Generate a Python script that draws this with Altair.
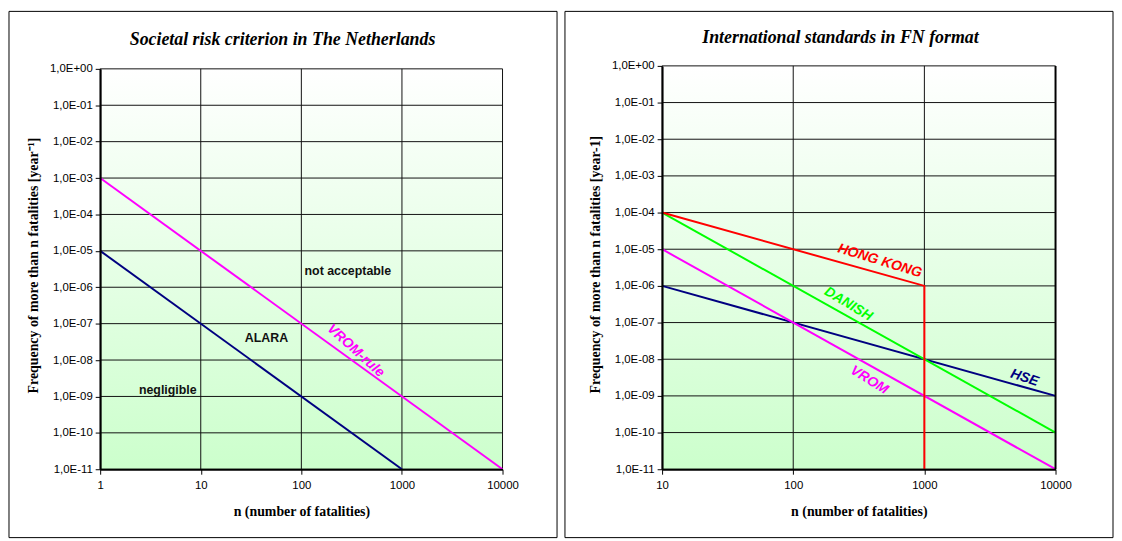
import altair as alt
import pandas as pd

# ---------------- data ----------------
# Left panel: Societal risk criterion in The Netherlands
nl_upper_n = [1, 10000]
nl_upper_f = [1e-3, 1e-11]
nl_lower_n = [1, 1000]
nl_lower_f = [1e-5, 1e-11]

# Right panel: International standards in FN format
hk_n = [10, 1000, 1000]
hk_f = [1e-4, 1e-6, 1e-11]
danish_n = [10, 10000]
danish_f = [1e-4, 1e-10]
hse_n = [10, 10000]
hse_f = [1e-6, 1e-9]
vrom_n = [10, 10000]
vrom_f = [1e-5, 1e-11]

x_ticks_left = [1, 10, 100, 1000, 10000]
x_ticks_right = [10, 100, 1000, 10000]
y_ticks = [1e0, 1e-1, 1e-2, 1e-3, 1e-4, 1e-5, 1e-6, 1e-7, 1e-8, 1e-9, 1e-10, 1e-11]

region_labels = ["not acceptable", "ALARA", "negligible"]
region_label_n = [290, 45, 4.7]
region_label_f = [2.75e-6, 3.9e-8, 1.48e-9]

# rotated curve labels: text, n, F, colour, angle
left_curve_labels = [("VROM-rule", 347, 1.8e-8, "#FF00FF", 42)]
right_curve_labels = [
    ("HONG KONG", 457, 4.8e-6, "#FF0000", 17),
    ("DANISH", 263, 3.2e-7, "#00FF00", 31),
    ("HSE", 5800, 3.1e-9, "#000080", 18),
    ("VROM", 380, 2.7e-9, "#FF00FF", 32),
]

left_title = "Societal risk criterion in The Netherlands"
right_title = "International standards in FN format"
left_ytitle = "Frequency of more than n  fatalities [year\u207b\u00b9]"
right_ytitle = "Frequency of more than n  fatalities [year-1]"
xtitle = "n  (number of fatalities)"

LABEL_EXPR = (
    "'1,0E' + (round(log(datum.value)/LN10) >= 0 ? '+' : '-') + "
    "(abs(round(log(datum.value)/LN10)) < 10 ? '0' : '') + abs(round(log(datum.value)/LN10))"
)

one = pd.DataFrame({"k": [0]})


def panel(width, height, ytop, xdomain, xticks, series, region, curve_labels,
          title, title_pos, ytitle, box, right_edge=False):
    xscale = alt.Scale(type="log", domain=xdomain, nice=False)
    yscale = alt.Scale(type="log", domain=[1e-11, 1], nice=False, range=[height, ytop])
    xenc = alt.X(
        "n:Q", scale=xscale,
        axis=alt.Axis(
            values=xticks, format="d", grid=False,
            tickColor="black", tickSize=5, domainColor="black", domainWidth=2,
            labelFont="Liberation Sans", labelFontSize=11.5, labelColor="black",
            labelPadding=5, labelOverlap=False, labelFlush=False,
            title=xtitle, titleFont="Liberation Serif", titleFontSize=14,
            titleFontWeight="bold", titleColor="black", titleY=43,
            titleBaseline="middle", zindex=1,
        ),
    )
    yenc = alt.Y(
        "f:Q", scale=yscale,
        axis=alt.Axis(
            values=y_ticks, labelExpr=LABEL_EXPR, grid=False,
            tickColor="black", tickSize=5, domainColor="black",
            domainWidth=2, labelFont="Liberation Sans", labelFontSize=11.5,
            labelColor="black", labelPadding=3, labelOverlap=False, labelFlush=False,
            title=ytitle, titleFont="Liberation Serif", titleFontSize=14,
            titleFontWeight="bold", titleColor="black", titleAngle=-90,
            titleX=-67, titleY=height - 77, titleAlign="left",
            titleBaseline="middle", zindex=1,
        ),
    )

    grad = alt.LinearGradient(
        gradient="linear",
        stops=[alt.GradientStop(color="#ffffff", offset=0),
               alt.GradientStop(color="#ccffcc", offset=1)],
        x1=0, x2=0, y1=0, y2=1,
    )
    layers = [
        alt.Chart(one).mark_rect(color=grad).encode(
            x=alt.value(0), x2=alt.value(width), y=alt.value(ytop), y2=alt.value(height)
        ),
        # gridlines at the tick values
        alt.Chart(pd.DataFrame({"f": y_ticks})).mark_rule(color="#111111", strokeWidth=1)
        .encode(y=yenc),
        alt.Chart(pd.DataFrame({"n": xticks})).mark_rule(color="#111111", strokeWidth=1)
        .encode(x=xenc, y=alt.value(ytop), y2=alt.value(height)),
    ]
    for ns, fs, col in series:
        df = pd.DataFrame({"n": ns, "f": fs, "idx": list(range(len(ns)))})
        layers.append(
            alt.Chart(df).mark_line(color=col, strokeWidth=2).encode(
                x=xenc, y=yenc, order="idx:Q"
            )
        )
    if region:
        labs, rn, rf = region
        df = pd.DataFrame({"n": rn, "f": rf, "t": labs})
        layers.append(
            alt.Chart(df).mark_text(font="Liberation Sans", fontSize=12.5,
                                    fontWeight="bold", color="#111111")
            .encode(x=xenc, y=yenc, text="t:N")
        )
    for t, n, f, col, ang in curve_labels:
        df = pd.DataFrame({"n": [n], "f": [f], "t": [t]})
        layers.append(
            alt.Chart(df).mark_text(font="Liberation Sans Narrow, Liberation Sans",
                                    fontSize=14, fontWeight="bold", fontStyle="italic",
                                    color=col, angle=ang)
            .encode(x=xenc, y=yenc, text="t:N")
        )
    if right_edge:
        layers.append(
            alt.Chart(one).mark_rule(color="black", strokeWidth=2).encode(
                x=alt.value(width), y=alt.value(ytop), y2=alt.value(height)
            )
        )
    layers.append(
        alt.Chart(one).mark_text(text=title, font="Liberation Serif", fontSize=18,
                                 fontWeight="bold", fontStyle="italic", color="black")
        .encode(x=alt.value(title_pos[0]), y=alt.value(title_pos[1]))
    )
    bx1, bx2, by1, by2 = box
    layers.append(
        alt.Chart(one).mark_rect(fillOpacity=0, stroke="black", strokeWidth=1).encode(
            x=alt.value(bx1), x2=alt.value(bx2), y=alt.value(by1), y2=alt.value(by2)
        )
    )
    return alt.layer(*layers).properties(width=width, height=height)


left = panel(
    406, 407, 3, [1, 10000], x_ticks_left,
    [(nl_upper_n, nl_upper_f, "#FF00FF"), (nl_lower_n, nl_lower_f, "#000080")],
    (region_labels, region_label_n, region_label_f), left_curve_labels,
    left_title, (184, -26), left_ytitle, (-92, 461, -55, 476),
)
right = panel(
    397, 407, 0, [10, 10000], x_ticks_right,
    [(hse_n, hse_f, "#000080"), (vrom_n, vrom_f, "#FF00FF"),
     (danish_n, danish_f, "#00FF00"), (hk_n, hk_f, "#FF0000")],
    None, right_curve_labels,
    right_title, (180, -28), right_ytitle, (-98, 455, -55, 476), right_edge=True,
)

chart = (
    alt.hconcat(left, right, spacing=6)
    .properties(padding=0, background="white")
    .configure_view(stroke="transparent")
)

chart.save("out.html", embed_options={"renderer": "svg", "actions": False})
